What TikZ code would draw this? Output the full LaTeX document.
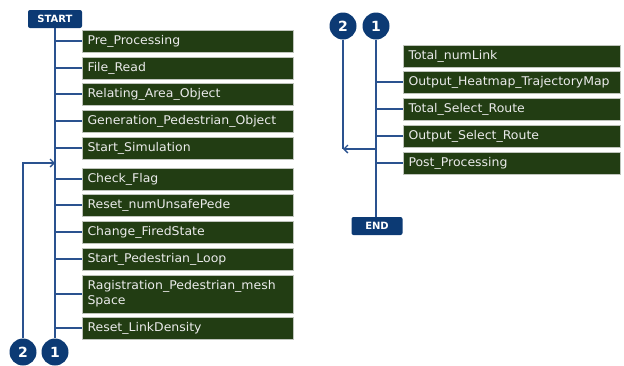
\documentclass[tikz,border=0pt]{standalone}
\usepackage{fontspec}
\setmainfont{DejaVu Sans}
\newfontfamily\boxfont[FakeStretch=1.04]{DejaVu Sans}
\usepackage{tikz}
\usetikzlibrary{arrows.meta, positioning, calc}
\definecolor{navy}{HTML}{0C3A74}
\definecolor{flowblue}{HTML}{2A528F}
\definecolor{boxgreen}{HTML}{223D13}
\definecolor{boxedge}{HTML}{BFC4BC}

\tikzset{
    stepbox/.style={rectangle, fill=boxgreen, draw=boxedge, line width=1pt, text=white!92!black,
        anchor=west, minimum height=22pt, inner xsep=5pt, inner ysep=2pt, align=left,
        font=\boxfont\fontsize{12}{15}\selectfont},
    leftbox/.style={stepbox, minimum width=211pt, text width=201pt},
    rightbox/.style={stepbox, minimum width=217pt, text width=207pt},
    termbox/.style={rectangle, rounded corners=2pt, fill=navy, text=white, minimum width=54pt,
        minimum height=18pt, inner sep=1pt, font=\bfseries\fontsize{10}{10}\selectfont},
    conn/.style={circle, fill=navy, text=white, minimum size=27pt, inner sep=0pt,
        font=\bfseries\fontsize{14}{14}\selectfont},
    flow/.style={draw=flowblue, line width=1.3pt},
    barb/.style={-{Straight Barb[length=4pt, width=8pt]}},
}

\begin{document}
\begin{tikzpicture}[x=1pt, y=-1pt]
    \useasboundingbox (0,0) rectangle (624,365);

    % Left column
    \node[termbox] (start) at (55,19) {START};
    \node[leftbox] (pre) at (82,41) {Pre\_Processing};
    \node[leftbox] (read) at (82,68) {File\_Read};
    \node[leftbox] (relate) at (82,94) {Relating\_Area\_Object};
    \node[leftbox] (gen) at (82,121) {Generation\_Pedestrian\_Object};
    \node[leftbox] (sim) at (82,148) {Start\_Simulation};
    \node[leftbox] (flag) at (82,179) {Check\_Flag};
    \node[leftbox] (unsafe) at (82,205) {Reset\_numUnsafePede};
    \node[leftbox] (fired) at (82,232) {Change\_FiredState};
    \node[leftbox] (loop) at (82,259) {Start\_Pedestrian\_Loop};
    \node[leftbox, minimum height=38pt] (regist) at (82,294) {Ragistration\_Pedestrian\_mesh\\Space};
    \node[leftbox] (density) at (82,328) {Reset\_LinkDensity};
    \node[conn] (oneL) at (55,352) {1};
    \node[conn] (twoL) at (23,352) {2};

    \draw[flow] (start.south) -- (oneL.north);
    \foreach \b in {pre, read, relate, gen, sim, flag, unsafe, fired, loop, regist, density}
        \draw[flow] (start.south |- \b.west) -- (\b.west);
    \coordinate (loopin) at (55,163);
    \draw[flow, barb] (twoL.north) |- (loopin);

    % Right column
    \node[conn] (oneR) at (376,26) {1};
    \node[conn] (twoR) at (343,26) {2};
    \node[rightbox] (numlink) at (403,56) {Total\_numLink};
    \node[rightbox] (heatmap) at (403,82) {Output\_Heatmap\_TrajectoryMap};
    \node[rightbox] (total) at (403,109) {Total\_Select\_Route};
    \node[rightbox] (output) at (403,136) {Output\_Select\_Route};
    \node[rightbox] (post) at (403,163) {Post\_Processing};
    \node[termbox, minimum width=51pt] (end) at (377,226) {END};

    \draw[flow] (oneR.south) -- (oneR.south |- end.north);
    \foreach \b in {heatmap, total, output, post}
        \draw[flow] (oneR.south |- \b.west) -- (\b.west);
    \coordinate (loopout) at (376,149);
    \draw[flow] (twoR.south) -- (twoR.south |- loopout);
    \draw[flow, barb] (loopout) -- (twoR.south |- loopout);
\end{tikzpicture}
\end{document}
